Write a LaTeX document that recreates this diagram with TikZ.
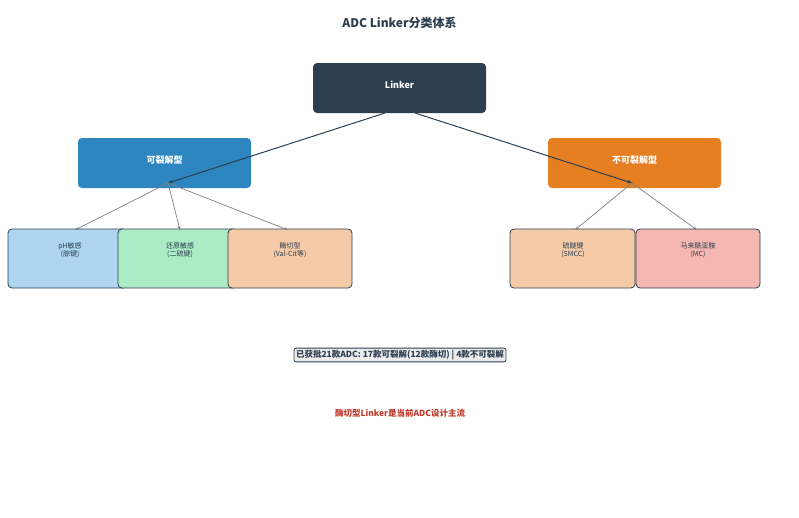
\documentclass[tikz,border=0pt]{standalone}
\usepackage{fontspec}
\setmainfont{Noto Sans CJK SC}
\usetikzlibrary{arrows.meta}
\definecolor{dk}{HTML}{2C3E50}
\definecolor{bl}{HTML}{2E86C1}
\definecolor{or}{HTML}{E67E22}
\definecolor{lb}{HTML}{AED6F1}
\definecolor{lg}{HTML}{ABEBC6}
\definecolor{lo}{HTML}{F5CBA7}
\definecolor{lr}{HTML}{F5B7B1}
\definecolor{rd}{HTML}{C0392B}
\begin{document}
\begin{tikzpicture}[x=1pt,y=-1pt,
 main/.style={rounded corners=4pt,draw=none,text=white,font=\bfseries\fontsize{9}{11}\selectfont},
 leaf/.style={rounded corners=4pt,draw=dk,line width=0.8pt},
 ltxt/.style={text=dk,font=\fontsize{7}{8}\selectfont,align=center},
 big/.style={-{Stealth[length=5pt]},dk,line width=1pt},
 sm/.style={-{Stealth[length=4pt]},gray,line width=0.7pt}]
\useasboundingbox (0,0) rectangle (799,517);
\node[font=\bfseries\fontsize{12}{14}\selectfont,text=dk] (title) at (399.5,23) {ADC Linker分类体系};
\fill[dk,rounded corners=4pt] (313,63) rectangle (486,113);
\node[main] (lk) at (399.5,85) {Linker};
\fill[bl,rounded corners=4pt] (78,138) rectangle (251,188);
\node[main] (cl) at (164.5,160) {可裂解型};
\fill[or,rounded corners=4pt] (548,138) rectangle (721,188);
\node[main] (nc) at (634.5,160) {不可裂解型};
\coordinate (lkl) at (385,113); \coordinate (lkr) at (415,113);
\coordinate (cp) at (168,183); \coordinate (np) at (632,183);
\draw[leaf,fill=lb] (8,229) rectangle (127,288);
\draw[leaf,fill=lg] (118,229) rectangle (237,288);
\draw[leaf,fill=lo] (228,229) rectangle (352,288);
\draw[leaf,fill=lo] (510,229) rectangle (635,288);
\draw[leaf,fill=lr] (636,229) rectangle (760,288);
\node[ltxt] (a) at (70,250) {pH敏感\\(腙键)};
\node[ltxt] (b) at (180,250) {还原敏感\\(二硫键)};
\node[ltxt] (c) at (290,250) {酶切型\\(Val-Cit等)};
\node[ltxt] (d) at (573,250) {硫醚键\\(SMCC)};
\node[ltxt] (e) at (698,250) {马来酰亚胺\\(MC)};
\coordinate (ta) at (75,230); \coordinate (tb) at (180,230); \coordinate (tc) at (288,230);
\coordinate (td) at (575,230); \coordinate (te) at (697,230);
\draw[big] (lkl) -- (cp);
\draw[big] (lkr) -- (np);
\draw[sm] (cp) -- (ta); \draw[sm] (cp) -- (tb); \draw[sm] (cp) -- (tc);
\draw[sm] (np) -- (td); \draw[sm] (np) -- (te);
\node[draw=dk,line width=0.8pt,fill=gray!15,rounded corners=2pt,inner sep=2pt,text=dk,font=\bfseries\fontsize{8.5}{10}\selectfont] (sum) at (400,355) {已获批21款ADC: 17款可裂解(12款酶切) | 4款不可裂解};
\node[text=rd,font=\bfseries\fontsize{8.5}{10}\selectfont] (note) at (400,413) {酶切型Linker是当前ADC设计主流};
\end{tikzpicture}
\end{document}
